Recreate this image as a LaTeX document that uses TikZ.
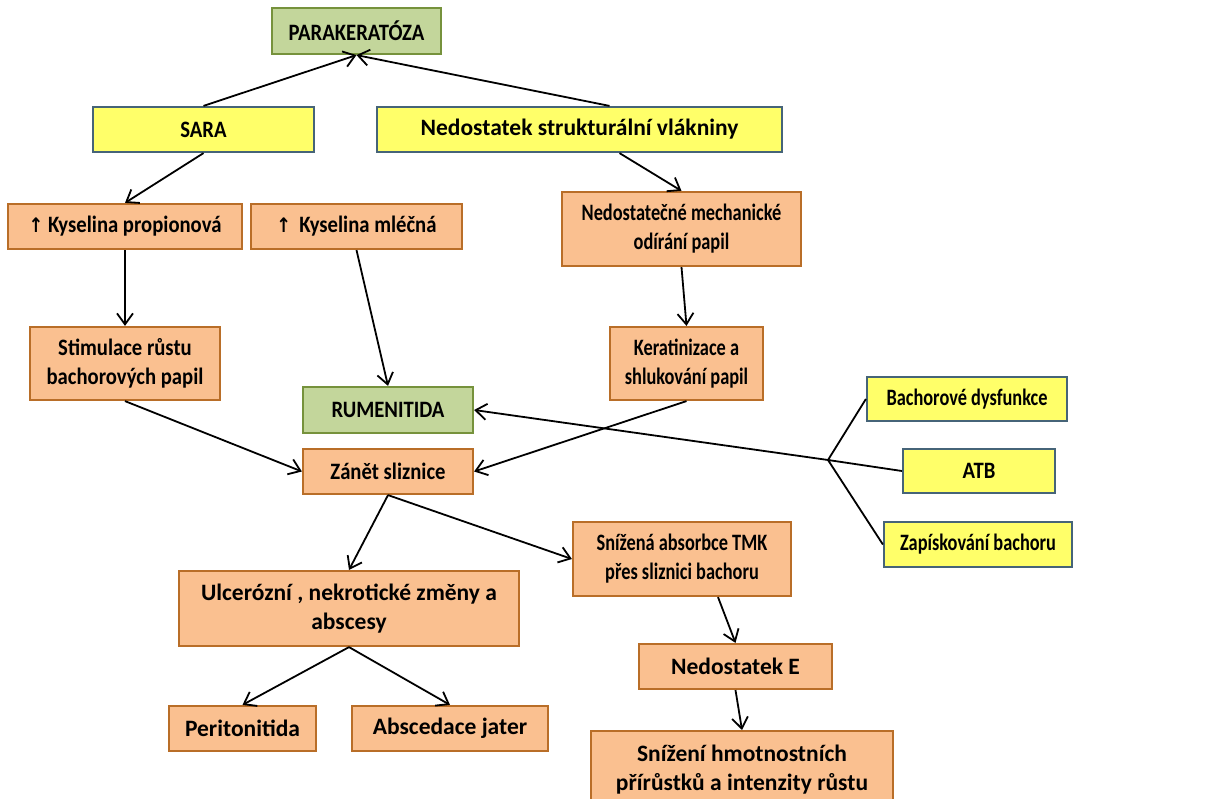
\documentclass[tikz,border=0pt]{standalone}
\usepackage{fontspec}
\usepackage{graphicx}
\setmainfont{Carlito}
\newfontfamily\arrowfont{DejaVu Sans}
\usetikzlibrary{arrows.meta}
\definecolor{boxOrange}{RGB}{250,192,144}
\definecolor{lineOrange}{RGB}{185,110,40}
\definecolor{boxYellow}{RGB}{255,255,105}
\definecolor{lineYellow}{RGB}{70,100,120}
\definecolor{boxGreen}{RGB}{195,214,155}
\definecolor{lineGreen}{RGB}{118,146,60}
\newcommand{\up}{{\arrowfont\fontsize{20}{24}\selectfont\char"2191}}
\newcommand{\squeezeLess}[1]{\scalebox{0.88}[1]{#1}}
\newcommand{\squeezeTight}[1]{\scalebox{0.78}[1]{#1}}

\begin{document}
\begin{tikzpicture}[x=1pt,y=-1pt,
  every node/.style={font=\bfseries\fontsize{23.5}{29}\selectfont,align=center,inner sep=2pt,line width=2.2pt},
  orangebox/.style={fill=boxOrange,draw=lineOrange},
  yellowbox/.style={fill=boxYellow,draw=lineYellow},
  greenbox/.style={fill=boxGreen,draw=lineGreen},
  link/.style={draw,line width=1.8pt,-{Straight Barb[length=11pt,width=16pt,line width=1.8pt]}}]
\useasboundingbox (0,0) rectangle (1215,799);
\node[greenbox,minimum width=169,minimum height=46] (para) at (356.5,31) {\squeezeLess{PARAKERATÓZA}};
\node[yellowbox,minimum width=221,minimum height=45] (sara) at (203.5,129.5) {\squeezeLess{SARA}};
\node[yellowbox,minimum width=405,minimum height=45] (nedo) at (579.5,129.5) {Nedostatek strukturální vlákniny};
\node[orangebox,minimum width=234,minimum height=45] (prop) at (125,226.5) {\squeezeLess{\up\ Kyselina propionová}};
\node[orangebox,minimum width=211,minimum height=45] (mlec) at (356.5,226.5) {\squeezeLess{\up\ \,Kyselina mléčná}};
\node[orangebox,minimum width=239,minimum height=74] (mech) at (681.5,229) {\squeezeTight{Nedostatečné mechanické}\\\squeezeTight{odírání papil}};
\node[orangebox,minimum width=190,minimum height=73] (stim) at (125,363.5) {\squeezeLess{Stimulace růstu}\\\squeezeLess{bachorových papil}};
\node[orangebox,minimum width=153,minimum height=73] (kera) at (686.5,363.5) {\squeezeTight{Keratinizace a}\\\squeezeTight{shlukování papil}};
\node[greenbox,minimum width=170,minimum height=46] (rume) at (388,410) {\squeezeLess{RUMENITIDA}};
\node[orangebox,minimum width=170,minimum height=45] (zanet) at (388,471.5) {\squeezeLess{Zánět sliznice}};
\node[yellowbox,minimum width=200,minimum height=44] (bdys) at (967,399) {\squeezeTight{Bachorové dysfunkce}};
\node[yellowbox,minimum width=152,minimum height=44] (atb) at (979,471) {\squeezeLess{ATB}};
\node[yellowbox,minimum width=188,minimum height=45] (zapi) at (978,544.5) {\squeezeTight{Zapískování bachoru}};
\node[orangebox,minimum width=218,minimum height=74] (snab) at (682,559) {\squeezeTight{Snížená absorbce TMK}\\\squeezeTight{přes sliznici bachoru}};
\node[orangebox,minimum width=340,minimum height=75] (ulc) at (349,608.5) {Ulcerózní , nekrotické změny a\\abscesy};
\node[orangebox,minimum width=147,minimum height=45] (peri) at (242.5,728.5) {Peritonitida};
\node[orangebox,minimum width=196,minimum height=45] (absc) at (450,728.5) {Abscedace jater};
\node[orangebox,minimum width=193,minimum height=45] (nedE) at (735.5,666.5) {Nedostatek E};
\node[orangebox,minimum width=302,minimum height=76,anchor=north] (sniz) at (742,730) {Snížení hmotnostních\\přírůstků a intenzity růstu};
\coordinate (fork) at (828,460);
\draw[link] (sara.north) -- (para.south);
\draw[link] ([xshift=30pt]nedo.north) -- (para.south);
\draw[link] (sara.south) -- (prop.north);
\draw[link] ([xshift=40pt]nedo.south) -- (mech.north);
\draw[link] (prop.south) -- (stim.north);
\draw[link] (mlec.south) -- (rume.north);
\draw[link] (mech.south) -- (kera.north);
\draw[link] (stim.south) -- (zanet.west);
\draw[link] (kera.south) -- (zanet.east);
\draw[line width=1.8pt] (bdys.west) -- (fork) -- (zapi.west) (atb.west) -- (fork);
\draw[link] (fork) -- (rume.east);
\draw[link] (zanet.south) -- (ulc.north);
\draw[link] (zanet.south) -- (snab.west);
\draw[link] (ulc.south) -- (peri.north);
\draw[link] (ulc.south) -- (absc.north);
\draw[link] ([xshift=36pt]snab.south) -- (nedE.north);
\draw[link] (nedE.south) -- (sniz.north);
\end{tikzpicture}
\end{document}
